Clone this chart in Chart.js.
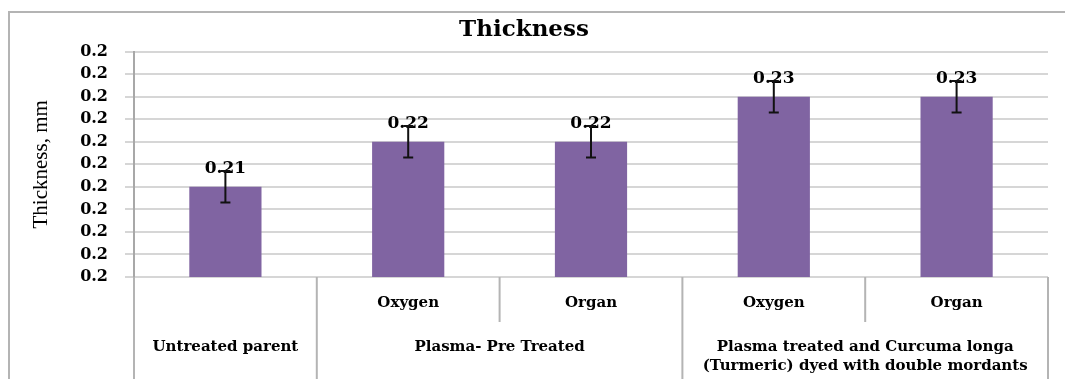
<!DOCTYPE html>
<html>
<head>
<meta charset="utf-8">
<script src="https://cdn.jsdelivr.net/npm/chart.js@4"></script>
<style>
  body { margin: 0; background: #fff; }
</style>
</head>
<body>
<canvas id="chart" width="1065" height="379"></canvas>
<script>
// values
const chartTitle = 'Thickness';
const yTitle = 'Thickness, mm';
const subLabels = ['', 'Oxygen', 'Organ', 'Oxygen', 'Organ'];
const groupLabels = [
  ['Untreated parent'],
  ['Plasma- Pre Treated'],
  ['Plasma treated and Curcuma longa', '(Turmeric) dyed with double mordants']
];
const groupSizes = [1, 2, 2];
const thickness = [0.21, 0.22, 0.22, 0.23, 0.23];
const errors = [0.0035, 0.0035, 0.0035, 0.0035, 0.0035];
const yMin = 0.19;
const yMax = 0.24;
const yStep = 0.005;

const serifBold = '"DejaVu Serif", serif';
const lineGray = '#b4b4b4';

// chart labels: sub label, or the group name when there is none
const labels = [];
groupSizes.forEach((size, g) => {
  for (let k = 0; k < size; k++) {
    const i = labels.length;
    labels.push(subLabels[i] || groupLabels[g][0]);
  }
});

// value labels + error bars
const barExtras = {
  id: 'barExtras',
  afterDatasetsDraw(chart) {
    const { ctx, scales: { y } } = chart;
    const bars = chart.getDatasetMeta(0).data;
    ctx.save();
    ctx.font = 'bold 17px ' + serifBold;
    ctx.fillStyle = '#000';
    ctx.textAlign = 'center';
    ctx.textBaseline = 'middle';
    bars.forEach((bar, i) => {
      ctx.fillText(thickness[i].toFixed(2), bar.x, y.getPixelForValue(thickness[i]) - 18);
    });
    ctx.strokeStyle = '#111';
    ctx.lineWidth = 2;
    bars.forEach((bar, i) => {
      const hi = y.getPixelForValue(thickness[i] + errors[i]);
      const lo = y.getPixelForValue(thickness[i] - errors[i]);
      ctx.beginPath();
      ctx.moveTo(bar.x, hi); ctx.lineTo(bar.x, lo);
      ctx.moveTo(bar.x - 5, hi); ctx.lineTo(bar.x + 5, hi);
      ctx.moveTo(bar.x - 5, lo); ctx.lineTo(bar.x + 5, lo);
      ctx.stroke();
    });
    ctx.restore();
  }
};

// two-row category table under the plot + outer frame
const categoryTable = {
  id: 'categoryTable',
  afterDraw(chart) {
    const { ctx, chartArea: area, scales: { x } } = chart;
    const H = chart.height;
    const half = (x.getPixelForValue(1) - x.getPixelForValue(0)) / 2;
    const edge = i => x.getPixelForValue(i) - half;
    ctx.save();
    ctx.strokeStyle = lineGray;
    ctx.lineWidth = 2;

    // outer frame
    ctx.strokeRect(9, 12, 1100, 400);

    // full height lines at group edges
    let idx = 0;
    const groupEdges = [0];
    groupSizes.forEach(s => { idx += s; groupEdges.push(idx); });
    ctx.beginPath();
    groupEdges.forEach(i => {
      ctx.moveTo(edge(i), area.bottom);
      ctx.lineTo(edge(i), H);
    });
    // short lines between sub labels inside a group
    groupSizes.forEach((s, g) => {
      for (let k = 1; k < s; k++) {
        const xi = edge(groupEdges[g] + k);
        ctx.moveTo(xi, area.bottom);
        ctx.lineTo(xi, area.bottom + 45);
      }
    });
    ctx.stroke();

    ctx.fillStyle = '#000';
    ctx.textAlign = 'center';
    ctx.textBaseline = 'middle';
    ctx.font = 'bold 15px ' + serifBold;
    subLabels.forEach((s, i) => {
      if (s) ctx.fillText(s, x.getPixelForValue(i), area.bottom + 26);
    });
    groupLabels.forEach((lines, g) => {
      const cx = (edge(groupEdges[g]) + edge(groupEdges[g + 1])) / 2;
      lines.forEach((t, j) => ctx.fillText(t, cx, area.bottom + 70 + j * 19));
    });
    ctx.restore();
  }
};

new Chart(document.getElementById('chart'), {
  type: 'bar',
  data: {
    labels: labels,
    datasets: [{
      label: chartTitle,
      data: thickness,
      backgroundColor: '#8064a2',
      barPercentage: 0.395,
      categoryPercentage: 1
    }]
  },
  options: {
    responsive: false,
    animation: false,
    layout: { padding: { left: 0, right: 17, top: 0, bottom: 0 } },
    plugins: {
      legend: { display: false },
      tooltip: { enabled: false },
      title: {
        display: true,
        text: chartTitle,
        color: '#000',
        font: { family: serifBold, size: 23, weight: 'bold' },
        padding: { top: 16, bottom: 8 }
      }
    },
    scales: {
      x: {
        ticks: { display: false },
        grid: { display: false },
        border: { display: false },
        afterFit(scale) { scale.height = 102; }
      },
      y: {
        min: yMin,
        max: yMax,
        ticks: {
          stepSize: yStep,
          color: '#000',
          padding: 17,
          font: { family: serifBold, size: 16, weight: 'bold' },
          callback: v => v.toFixed(1)
        },
        grid: { color: '#d6d6d6', lineWidth: 2, tickLength: 9 },
        border: { color: '#a8a8a8', width: 2 },
        title: {
          display: true,
          text: yTitle,
          color: '#000',
          font: { family: '"Liberation Serif", serif', size: 21 },
          padding: { top: 29, bottom: 0 }
        },
        afterFit(scale) { scale.width = 134; }
      }
    }
  },
  plugins: [barExtras, categoryTable]
});
</script>
</body>
</html>
